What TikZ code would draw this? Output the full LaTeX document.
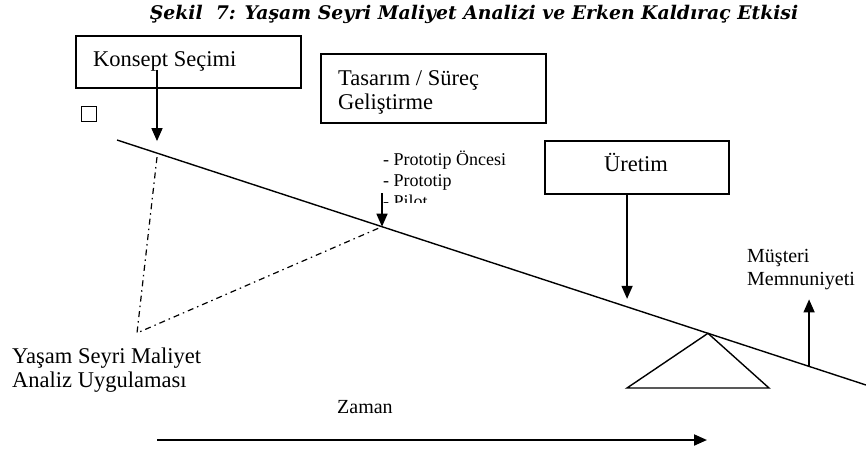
\documentclass[tikz,border=0pt]{standalone}
\usepackage{fontspec}
\setmainfont{Liberation Serif}
\newfontfamily\titlefont{DejaVu Serif}
\usetikzlibrary{arrows.meta,calc}
\begin{document}
\begin{tikzpicture}[x=1pt,y=-1pt,
  box/.style={draw, line width=1.5pt, inner sep=0pt},
  lbl/.style={inner sep=0pt, font=\fontsize{22.5}{26}\selectfont},
  smalltxt/.style={inner sep=0pt, font=\fontsize{18}{21}\selectfont},
  midtxt/.style={inner sep=0pt, font=\fontsize{20}{24}\selectfont},
  conn/.style={line width=1.4pt},
  arr/.style={line width=1.6pt, -{Triangle[length=13pt,width=11pt]}},
  dashdot/.style={line width=1.2pt, dash pattern=on 6pt off 4pt on 1.5pt off 4pt}]
\useasboundingbox (0,0) rectangle (866,448);
% title
\node[anchor=base, inner sep=0pt, font=\titlefont\bfseries\itshape\fontsize{18.8}{22}\selectfont] (title) at (474,19) {Şekil\ \ 7: Yaşam Seyri Maliyet Analizi ve Erken Kaldıraç Etkisi};
% boxes
\node[box, anchor=north west, minimum width=225pt, minimum height=52pt] (konsept) at (75,35) {};
\node[lbl, anchor=base west] (konseptt) at (93,66) {Konsept Seçimi};
\node[box, anchor=north west, minimum width=225pt, minimum height=69pt] (tasarim) at (320,53) {};
\node[lbl, anchor=base west] (tasarimt1) at (338,85) {Tasarım / Süreç};
\node[lbl, anchor=base west] (tasarimt2) at (338,109) {Geliştirme};
\node[box, anchor=north west, minimum width=184pt, minimum height=53pt] (uretim) at (544,140) {};
\node[lbl, anchor=base] (uretimt) at (636,171) {Üretim};
\node[draw, line width=1.2pt, inner sep=0pt, minimum size=15pt, anchor=south east] (sq) at (97,122) {};
% main lever line
\coordinate (L0) at (117,140);
\coordinate (L1) at (866,385);
\draw[conn] (L0) -- (L1);
% points on the line
\coordinate (pK) at ($(L0)!0.0534!(L1)$);
\coordinate (pP) at ($(L0)!0.3538!(L1)$);
\coordinate (pU) at ($(L0)!0.681!(L1)$);
\coordinate (pA) at ($(L0)!0.789!(L1)$);
\coordinate (pM) at ($(L0)!0.924!(L1)$);
% arrows
\coordinate (kS) at (157,70);
\draw[arr] (kS) -- ($(pK)+(0,-12)$);
\coordinate (pS) at (382,193);
\draw[arr] (pS) -- (pP);
\draw[arr] (uretim.south -| pU) -- ($(pU)+(0,-8)$);
\draw[arr] (pM) -- ($(pM)+(0,-67)$);
% dash-dot triangle
\coordinate (V) at (137,333);
\draw[dashdot] ($(pK)+(0,4)$) -- (V) -- (pP);
% fulcrum
\coordinate (T1) at (627,388);
\coordinate (T2) at (769,388);
\draw[conn, line join=miter] (pA) -- (T1) -- (T2) -- cycle;
% prototype list (clipped)
\begin{scope}
\clip (370,140) rectangle (530,202);
\node[smalltxt, anchor=base west] (pr1) at (383,165) {- Prototip Öncesi};
\node[smalltxt, anchor=base west] (pr2) at (383,186) {- Prototip};
\node[smalltxt, anchor=base west] (pr3) at (383,207) {- Pilot};
\end{scope}
% other labels
\node[lbl, anchor=base west] (ys1) at (12,363) {Yaşam Seyri Maliyet};
\node[lbl, anchor=base west] (ys2) at (12,387) {Analiz Uygulaması};
\node[midtxt, anchor=base west] (mu1) at (747,262) {Müşteri};
\node[midtxt, anchor=base west] (mu2) at (747,285) {Memnuniyeti};
\node[midtxt, anchor=base west] (zaman) at (337,413) {Zaman};
% time arrow
\coordinate (Z0) at (157,440);
\coordinate (Z1) at (707,440);
\draw[arr, line width=2pt] (Z0) -- (Z1);
\end{tikzpicture}
\end{document}
